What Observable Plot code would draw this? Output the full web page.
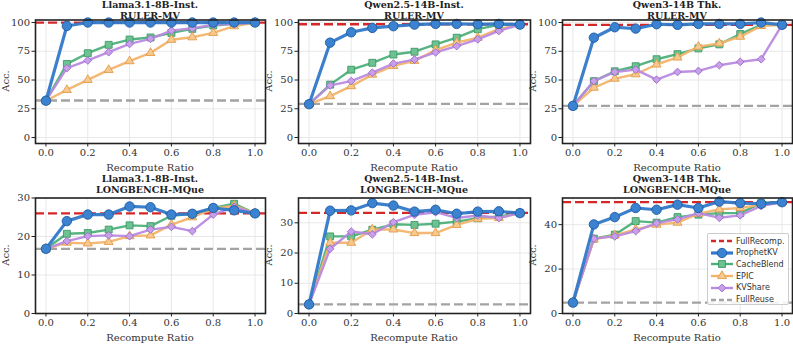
<!DOCTYPE html>
<html><head><meta charset="utf-8">
<script src="https://cdn.jsdelivr.net/npm/d3@7"></script>
<script src="https://cdn.jsdelivr.net/npm/@observablehq/plot@0.6"></script>
<style>
body{margin:0;background:#fff;}
#wrap{position:relative;width:793px;height:345px;overflow:hidden;font-family:"DejaVu Serif",serif;background:#fff;}
#wrap .cell svg, #wrap .cell svg text{font-family:"DejaVu Serif",serif;}
.cell{position:absolute;}
.title{position:absolute;font-weight:bold;font-size:9.5px;text-align:center;line-height:11.5px;color:#222;white-space:nowrap;transform:translateX(-50%);}
.ylab{position:absolute;font-size:10px;color:#333;white-space:nowrap;transform:translate(-50%,-50%) rotate(-90deg);}
.xlab{position:absolute;font-size:10px;color:#333;white-space:nowrap;transform:translate(-50%,-50%);}
.legend{position:absolute;left:707px;top:233px;width:82px;height:72px;background:rgba(255,255,255,0.85);border:1px solid #ccc;border-radius:2px;box-sizing:border-box;font-family:"DejaVu Sans",sans-serif;font-size:8px;color:#333;}
.legend .row{position:absolute;left:3px;height:12px;display:flex;align-items:center;}
.legend svg{margin-right:3px;}
</style></head>
<body><div id="wrap"></div>
<script>
// ---- data ----
const ratio = [0, 0.1, 0.2, 0.3, 0.4, 0.5, 0.6, 0.7, 0.8, 0.9, 1.0];
const xTicks = [0, 0.2, 0.4, 0.6, 0.8, 1.0];
const models = ["Llama3.1-8B-Inst.", "Qwen2.5-14B-Inst.", "Qwen3-14B Thk.", "Llama3.1-8B-Inst.", "Qwen2.5-14B-Inst.", "Qwen3-14B Thk."];
const benchmarks = ["RULER-MV", "RULER-MV", "RULER-MV", "LONGBENCH-MQue", "LONGBENCH-MQue", "LONGBENCH-MQue"];
const fullRecomp = [100, 98.5, 98, 26.0, 33.3, 50.1];
const fullReuse = [32.2, 29.2, 27.5, 16.8, 3.0, 4.9];
const prophetKV = [
  [32, 97, 100, 100, 100, 100, 100, 100, 100, 100, 100],
  [29, 82.5, 91.5, 95.3, 96.8, 98.2, 98.8, 98.8, 98.5, 98.8, 98.2],
  [27.5, 86.8, 95.9, 94.7, 98.5, 98, 98.8, 98.8, 98.8, 100, 98],
  [16.8, 24, 25.7, 25.7, 27.8, 27.6, 25.7, 25.9, 27.4, 26.8, 26],
  [3.0, 34, 34.1, 36.5, 35.7, 33.7, 34.3, 33, 33.7, 33.8, 33.2],
  [4.9, 40.1, 43.4, 47.5, 46.7, 49, 47.5, 50.4, 49.7, 49.4, 50.1]
];
const cacheBlend = [
  [32, 64, 73.3, 80.6, 85.2, 87, 91, 94.5, 97.4, 99, 100],
  [29, 46, 59, 65, 72.2, 74.6, 81, 86.8, 94.2, 98, 98.2],
  [27.5, 49, 57.6, 62, 68.1, 72.5, 77.5, 81, 90, 98, 98],
  [16.8, 20.7, 20.9, 21.8, 22.9, 22.7, 25.4, 25.9, 27.4, 28.5, 26],
  [3.0, 25.5, 25.5, 27.7, 29.5, 29.3, 29.7, 30.4, 31.5, 32.1, 33.2],
  [4.9, 33.7, 35.5, 41.6, 40.9, 43.4, 44.5, 45.2, 45.2, 49.7, 50.1]
];
const epic = [
  [32, 41.4, 50.1, 58.8, 66.4, 73.6, 85, 87.2, 91, 96.8, 100],
  [29, 36, 44.7, 54.7, 62.3, 66.7, 76, 82.5, 86.8, 94.2, 98.2],
  [27.5, 43.3, 51.2, 55, 63.5, 69.6, 79, 81.9, 87.7, 97, 98],
  [16.8, 18.4, 18.2, 18.6, 20.1, 20.3, 23.1, 25, 27.2, 28, 26],
  [3.0, 23.4, 23.4, 27.8, 27.8, 26.6, 26.6, 29.3, 31.3, 31.6, 33.2],
  [4.9, 33.4, 35.2, 37.9, 40, 40.9, 44.9, 46.9, 47.5, 49, 50.1]
];
const kvShare = [
  [32, 60.3, 67, 74.2, 81.4, 85.8, 93, 95, 98, 99, 100],
  [29, 45.3, 49.1, 56.4, 64.3, 67.8, 74, 79.5, 85.4, 92.7, 98.2],
  [27.5, 49.1, 57, 59, 50.3, 57, 57.9, 62.9, 65.8, 68.1, 98],
  [16.8, 18.8, 20.1, 20.3, 20.1, 21.8, 22.5, 21.4, 25.7, 27.7, 26],
  [3.0, 21.4, 27.1, 26.2, 30.2, 32.6, 33.5, 31.6, 32.4, 31.6, 33.2],
  [4.9, 33.7, 34.7, 37.1, 40.7, 42.4, 45.2, 43.1, 44.2, 48.4, 50.1]
];
const yTicks = [[0, 25, 50, 75, 100], [0, 25, 50, 75, 100], [0, 25, 50, 75, 100], [0, 10, 20, 30], [0, 10, 20, 30], [0, 20, 40]];
const yDomains = [[-5.2, 102.2], [-5.2, 102.2], [-5.2, 102.2], [0, 30], [0, 38.2], [0, 52]];

// ---- styles ----
const methods = [
  {name: "CacheBlend", values: cacheBlend, line: "#4cb07a", fill: "#6cc291", stroke: "#3d9965", symbol: "square", r: 3.9, sw: 2.4},
  {name: "EPIC", values: epic, line: "#f2b46c", fill: "#f6c98f", stroke: "#e39b48", symbol: "triangle", r: 3.3, sw: 2.4},
  {name: "KVShare", values: kvShare, line: "#b98ae0", fill: "#c8a0ea", stroke: "#9d6bc9", symbol: "diamond2", r: 3.5, sw: 2.4},
  {name: "ProphetKV", values: prophetKV, line: "#3179c9", fill: "#3b82d0", stroke: "#1e5ba3", symbol: "circle", r: 4.7, sw: 3.2}
];

const wrap = document.getElementById("wrap");
const cells = [
  {left: 0, top: 0, ml: 35, mr: 5, w: 270, mt: 19.5, mb: 27, tdy: 21},
  {left: 263, top: 0, ml: 35, mr: 5, w: 272, mt: 19.5, mb: 27, tdy: 21},
  {left: 527, top: 0, ml: 35, mr: 1, w: 266, mt: 19.5, mb: 27, tdy: 21},
  {left: 0, top: 175, ml: 35, mr: 5, w: 270, mt: 22.5, mb: 32, tdy: 25},
  {left: 263, top: 175, ml: 35, mr: 5, w: 272, mt: 22.5, mb: 32, tdy: 25},
  {left: 527, top: 175, ml: 35, mr: 1, w: 266, mt: 22.5, mb: 32, tdy: 25}
];

cells.forEach((c, i) => {
  const H = 170;
  const marks = [
    Plot.gridX(xTicks, {stroke: "#e2e2e2", strokeOpacity: 1, strokeWidth: 0.8}),
    Plot.gridY(yTicks[i], {stroke: "#e2e2e2", strokeOpacity: 1, strokeWidth: 0.8}),
    Plot.ruleY([fullReuse[i]], {stroke: "#a3a3a3", strokeWidth: 2.3, strokeDasharray: "9,4"}),
    Plot.ruleY([fullRecomp[i]], {stroke: "#d62728", strokeWidth: 2.3, strokeDasharray: "9,4"})
  ];
  methods.forEach(m => {
    const rows = ratio.map((r, j) => ({r, v: m.values[i][j]}));
    marks.push(Plot.line(rows, {x: "r", y: "v", stroke: m.line, strokeWidth: m.sw, strokeOpacity: 0.95}));
    marks.push(Plot.dot(rows, {x: "r", y: "v", symbol: m.symbol, r: m.r, fill: m.fill, stroke: m.stroke, strokeWidth: 0.9}));
  });
  marks.push(Plot.frame({stroke: "#222", strokeWidth: 1.6}));
  marks.push(Plot.axisX(xTicks, {tickFormat: d => d.toFixed(1), tickSize: 3.5, tickPadding: 2, label: null, stroke: "#222"}));
  marks.push(Plot.axisY(yTicks[i], {tickSize: 3.5, tickPadding: 2, label: null, stroke: "#222"}));
  const svg = Plot.plot({
    width: c.w, height: H,
    marginLeft: c.ml, marginRight: c.mr, marginTop: c.mt, marginBottom: c.mb,
    x: {domain: [-0.05, 1.05]},
    y: {domain: yDomains[i]},
    style: {fontFamily: "'DejaVu Serif', serif", fontSize: "10px", color: "#333", background: "transparent", overflow: "visible"},
    marks
  });
  const div = document.createElement("div");
  div.className = "cell";
  div.style.left = c.left + "px";
  div.style.top = c.top + "px";
  div.appendChild(svg);
  wrap.appendChild(div);

  const fx0 = c.left + c.ml, fx1 = c.left + c.w - c.mr;
  const fy0 = c.top + c.mt, fy1 = c.top + H - c.mb;
  const cx = (fx0 + fx1) / 2;
  const t = document.createElement("div");
  t.className = "title";
  t.style.left = cx + "px";
  t.style.top = (fy0 - c.tdy) + "px";
  t.innerHTML = models[i] + "<br>" + benchmarks[i];
  wrap.appendChild(t);
  const yl = document.createElement("div");
  yl.className = "ylab";
  yl.style.left = (fx0 - 30) + "px";
  yl.style.top = ((fy0 + fy1) / 2) + "px";
  yl.textContent = "Acc.";
  wrap.appendChild(yl);
  const xl = document.createElement("div");
  xl.className = "xlab";
  xl.style.left = cx + "px";
  xl.style.top = (fy1 + 24) + "px";
  xl.textContent = "Recompute Ratio";
  wrap.appendChild(xl);
});

// ---- legend ----
const legendItems = [
  {name: "FullRecomp.", line: "#d62728", dash: "5,3"},
  {name: "ProphetKV", m: methods[3]},
  {name: "CacheBlend", m: methods[0]},
  {name: "EPIC", m: methods[1]},
  {name: "KVShare", m: methods[2]},
  {name: "FullReuse", line: "#a3a3a3", dash: "5,3"}
];
const leg = document.createElement("div");
leg.className = "legend";
legendItems.forEach((it, k) => {
  const row = document.createElement("div");
  row.className = "row";
  row.style.top = (1 + k * 11.7) + "px";
  const s = d3.create("svg").attr("width", 22).attr("height", 12);
  if (it.m) {
    s.append("line").attr("x1", 0).attr("x2", 22).attr("y1", 6).attr("y2", 6).attr("stroke", it.m.line).attr("stroke-width", it.m.sw);
    const sym = {circle: d3.symbolCircle, square: d3.symbolSquare, triangle: d3.symbolTriangle, diamond2: d3.symbolDiamond2}[it.m.symbol];
    s.append("path").attr("d", d3.symbol(sym, Math.PI * it.m.r * it.m.r)()).attr("transform", "translate(11,6)").attr("fill", it.m.fill).attr("stroke", it.m.stroke).attr("stroke-width", 0.9);
  } else {
    s.append("line").attr("x1", 0).attr("x2", 22).attr("y1", 6).attr("y2", 6).attr("stroke", it.line).attr("stroke-width", 2.3).attr("stroke-dasharray", it.dash);
  }
  row.appendChild(s.node());
  const tx = document.createElement("span");
  tx.textContent = it.name;
  row.appendChild(tx);
  leg.appendChild(row);
});
wrap.appendChild(leg);
</script></body></html>
